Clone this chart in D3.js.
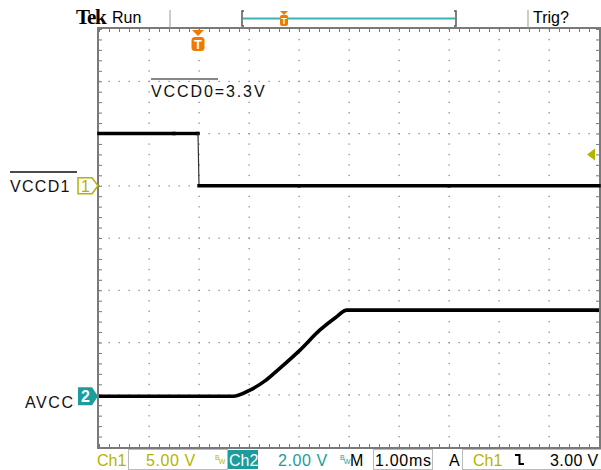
<!DOCTYPE html>
<html><head><meta charset="utf-8">
<script src="https://cdn.jsdelivr.net/npm/d3@7"></script>
<style>body{margin:0;background:#fff}svg{display:block}</style>
</head><body>
<script>
// ---- data ----
const timeDomain = [-2, 8];            // ms, 1.00 ms/div
const ch1Scale = 5.0;                  // V/div
const ch2Scale = 2.0;                  // V/div
const ch1Position = 1.0;               // div
const ch2Position = -3.03;             // div
const ch1Time = [-2, -0.5, -0.03, -0.02, 0.0, 2, 5, 8];
const ch1Volts = [5.0, 5.0, 5.0, 5.0, 0.0, 0.0, 0.0, 0.0];
const ch2Time = [-2, 0, 0.68, 1.02, 1.32, 1.62, 2.02, 2.42, 2.72, 2.96, 4, 6, 8];
const ch2Volts = [0, 0, 0, 0.24, 0.59, 1.08, 1.77, 2.54, 3.0, 3.3, 3.3, 3.3, 3.3];
const triggerTime = -0.02;
const triggerLevel = 3.0;              // V on Ch1
const statusLabels = ["Ch1", "5.00 V", "Ch2", "2.00 V", "M", "1.00ms", "A", "Ch1", "3.00 V"];

const W = 601, H = 470;
const X0 = 99, X1 = 599, Y0 = 29, Y1 = 447;
const YELLOW = "#b4b400", TEAL = "#1c9c9c", ORANGE = "#f07a00", GRID = "#8a8a8a";

const svg = d3.select("body").append("svg").attr("width", W).attr("height", H)
  .style("font-family", "'Liberation Sans', Arial, sans-serif");

const x = d3.scaleLinear().domain(timeDomain).range([X0, X1]);
const y = d3.scaleLinear().domain([-4, 4]).range([Y1, Y0]);   // divisions
const divW = (X1 - X0) / 10, divH = (Y1 - Y0) / 8;

// ---- grid dots ----
const g = svg.append("g");
for (let i = 1; i < 10; i++) {
  for (let k = 0; k <= 40; k++) {
    g.append("rect").attr("x", x(timeDomain[0] + i) - 0.5).attr("y", Y0 + k * divH / 5 - 0.5)
      .attr("width", 1.3).attr("height", 1.3).attr("fill", GRID);
  }
}
for (let j = 1; j < 8; j++) {
  for (let k = 0; k <= 50; k++) {
    g.append("rect").attr("x", X0 + k * divW / 5 - 0.5).attr("y", y(-4 + j) - 0.5)
      .attr("width", 1.3).attr("height", 1.3).attr("fill", GRID);
  }
}
// border ticks via axes
const xt = d3.range(timeDomain[0], timeDomain[1] + 0.001, 0.2);
const yt = d3.range(-4, 4.001, 0.2);
function styleAxis(sel) {
  sel.select(".domain").remove();
  sel.selectAll("line").attr("stroke", "#777").attr("stroke-width", 1);
}
svg.append("g").attr("transform", `translate(0,${Y0})`)
  .call(d3.axisBottom(x).tickValues(xt).tickSize(3).tickFormat("")).call(styleAxis);
svg.append("g").attr("transform", `translate(0,${Y1})`)
  .call(d3.axisTop(x).tickValues(xt).tickSize(3).tickFormat("")).call(styleAxis);
svg.append("g").attr("transform", `translate(${X0},0)`)
  .call(d3.axisRight(y).tickValues(yt).tickSize(3).tickFormat("")).call(styleAxis);
svg.append("g").attr("transform", `translate(${X1},0)`)
  .call(d3.axisLeft(y).tickValues(yt).tickSize(3).tickFormat("")).call(styleAxis);
// border
svg.append("rect").attr("x", X0 - 1).attr("y", Y0 - 1).attr("width", X1 - X0 + 2).attr("height", Y1 - Y0 + 2)
  .attr("fill", "none").attr("stroke", "#7a7a7a").attr("stroke-width", 2);

// ---- traces ----
const ch1Y = v => y(ch1Position + v / ch1Scale);
const ch2Y = v => y(ch2Position + v / ch2Scale);
// Ch1: draw segment by segment, fast edges drawn thin like the scope does
const ch1Pts = ch1Time.map((t, i) => [x(t), ch1Y(ch1Volts[i])]);
d3.pairs(ch1Pts).forEach(([a, b]) => {
  const steep = Math.abs(b[0] - a[0]) < 3 && Math.abs(b[1] - a[1]) > 5;
  svg.append("path").attr("d", d3.line()([a, b])).attr("fill", "none").attr("stroke", steep ? "#333" : "#000")
    .attr("stroke-width", steep ? 1.2 : 3.4).attr("stroke-linecap", steep ? "butt" : "square");
});
const line2 = d3.line().x((d, i) => x(ch2Time[i])).y(d => ch2Y(d)).curve(d3.curveMonotoneX);
svg.append("path").attr("d", line2(ch2Volts)).attr("fill", "none").attr("stroke", "#000")
  .attr("stroke-width", 3.6);

// ---- channel markers ----
const m1 = ch1Y(0), m2 = ch2Y(0);
svg.append("path").attr("d", `M78,${m1 - 8} H92 L98,${m1} L92,${m1 + 8} H78 Z`)
  .attr("fill", "#fff").attr("stroke", YELLOW).attr("stroke-width", 1.5);
svg.append("text").attr("x", 85.5).attr("y", m1 + 6).attr("text-anchor", "middle")
  .attr("font-size", 16).attr("fill", YELLOW).text("1");
svg.append("path").attr("d", `M78,${m2 - 9} H92 L98,${m2} L92,${m2 + 9} H78 Z`)
  .attr("fill", TEAL);
svg.append("text").attr("x", 85.5).attr("y", m2 + 6).attr("text-anchor", "middle")
  .attr("font-size", 16).attr("font-weight", "bold").attr("fill", "#fff").text("2");

// trigger level marker (right edge)
const tl = ch1Y(triggerLevel);
svg.append("path").attr("d", `M587,${tl} L595,${tl - 6} L595,${tl + 6} Z`).attr("fill", YELLOW);

// trigger position marker
const tx = x(triggerTime);
svg.append("path").attr("d", `M${tx - 6},${Y0 + 1} H${tx + 6} L${tx},${Y0 + 7} Z`).attr("fill", ORANGE);
svg.append("rect").attr("x", tx - 6.5).attr("y", Y0 + 8).attr("width", 13).attr("height", 14).attr("rx", 3.5)
  .attr("fill", ORANGE);
svg.append("text").attr("x", tx).attr("y", Y0 + 20).attr("text-anchor", "middle")
  .attr("font-size", 13).attr("font-weight", "bold").attr("fill", "#fff").text("T");

// ---- signal labels ----
svg.append("text").attr("x", 10).attr("y", 192).attr("font-size", 16).attr("letter-spacing", 1.3)
  .attr("fill", "#111").text("VCCD1");
svg.append("line").attr("x1", 10).attr("x2", 77).attr("y1", 172).attr("y2", 172).attr("stroke", "#111").attr("stroke-width", 1.5);
svg.append("text").attr("x", 25).attr("y", 408).attr("font-size", 16).attr("letter-spacing", 1.6)
  .attr("fill", "#111").text("AVCC");
svg.append("text").attr("x", 151).attr("y", 97).attr("font-size", 16).attr("letter-spacing", 1.9)
  .attr("fill", "#111").text("VCCD0=3.3V");
svg.append("line").attr("x1", 151).attr("x2", 218).attr("y1", 79).attr("y2", 79).attr("stroke", "#111").attr("stroke-width", 1.2);

// ---- header ----
svg.append("text").attr("x", 76).attr("y", 24).attr("font-family", "'Liberation Serif', serif")
  .attr("font-weight", "bold").attr("font-size", 21).attr("letter-spacing", -1.2).attr("fill", "#000").text("Tek");
svg.append("text").attr("x", 112).attr("y", 23).attr("font-size", 16).attr("fill", "#000").text("Run");
svg.append("line").attr("x1", 170).attr("x2", 170).attr("y1", 10).attr("y2", 28).attr("stroke", "#999");
svg.append("line").attr("x1", 528).attr("x2", 528).attr("y1", 10).attr("y2", 28).attr("stroke", "#999");
svg.append("text").attr("x", 533).attr("y", 23).attr("font-size", 16).attr("fill", "#000").text("Trig?");
svg.append("path").attr("d", "M244,11 H242 V26 H244").attr("fill", "none").attr("stroke", "#555").attr("stroke-width", 1.5);
svg.append("path").attr("d", "M454,11 H456 V26 H454").attr("fill", "none").attr("stroke", "#555").attr("stroke-width", 1.5);
svg.append("line").attr("x1", 243).attr("x2", 455).attr("y1", 18.5).attr("y2", 18.5).attr("stroke", "#3cb4b4").attr("stroke-width", 2);
svg.append("path").attr("d", "M280,11 H288 L284,15 Z").attr("fill", ORANGE);
svg.append("rect").attr("x", 280).attr("y", 15).attr("width", 8).attr("height", 11).attr("rx", 2).attr("fill", ORANGE);
svg.append("text").attr("x", 284).attr("y", 24).attr("text-anchor", "middle").attr("font-size", 9)
  .attr("font-weight", "bold").attr("fill", "#fff").text("T");

// ---- status bar ----
const sb = svg.append("g").attr("font-size", 16);
const by = 466;
sb.append("rect").attr("x", 128.5).attr("y", 449.5).attr("width", 99).attr("height", 20).attr("fill", "none").attr("stroke", "#bbb");
sb.append("rect").attr("x", 373.5).attr("y", 449.5).attr("width", 59).attr("height", 20).attr("fill", "none").attr("stroke", "#bbb");
sb.append("rect").attr("x", 462.5).attr("y", 449.5).attr("width", 140).attr("height", 20).attr("fill", "none").attr("stroke", "#bbb");
sb.append("rect").attr("x", 228).attr("y", 450).attr("width", 30).attr("height", 19).attr("fill", TEAL);
sb.append("text").attr("x", 97).attr("y", by).attr("fill", YELLOW).text(statusLabels[0]);
sb.append("text").attr("x", 146).attr("y", by).attr("fill", YELLOW).attr("letter-spacing", 0.6).text(statusLabels[1]);
sb.append("text").attr("x", 229).attr("y", by).attr("fill", "#fff").text(statusLabels[2]);
sb.append("text").attr("x", 278).attr("y", by).attr("fill", TEAL).attr("letter-spacing", 0.6).text(statusLabels[3]);
sb.append("text").attr("x", 350).attr("y", by).attr("fill", "#000").text(statusLabels[4]);
sb.append("text").attr("x", 375).attr("y", by).attr("fill", "#000").attr("textLength", 56).text(statusLabels[5]);
sb.append("text").attr("x", 449).attr("y", by).attr("fill", "#000").text(statusLabels[6]);
sb.append("text").attr("x", 473).attr("y", by).attr("fill", YELLOW).text(statusLabels[7]);
sb.append("text").attr("x", 550).attr("y", by).attr("fill", "#000").attr("letter-spacing", 0.4).text(statusLabels[8]);
// falling-edge symbol
sb.append("path").attr("d", "M515,455 H519.5 V464 H524").attr("fill", "none").attr("stroke", "#000").attr("stroke-width", 2);
// BW marks
function bw(xp, col) {
  const t = sb.append("text").attr("x", xp).attr("y", 460).attr("font-size", 7).attr("fill", col);
  t.append("tspan").text("B");
  t.append("tspan").attr("dy", 4).attr("dx", -1).text("W");
}
bw(215, YELLOW);
bw(340, TEAL);
</script>
</body></html>
